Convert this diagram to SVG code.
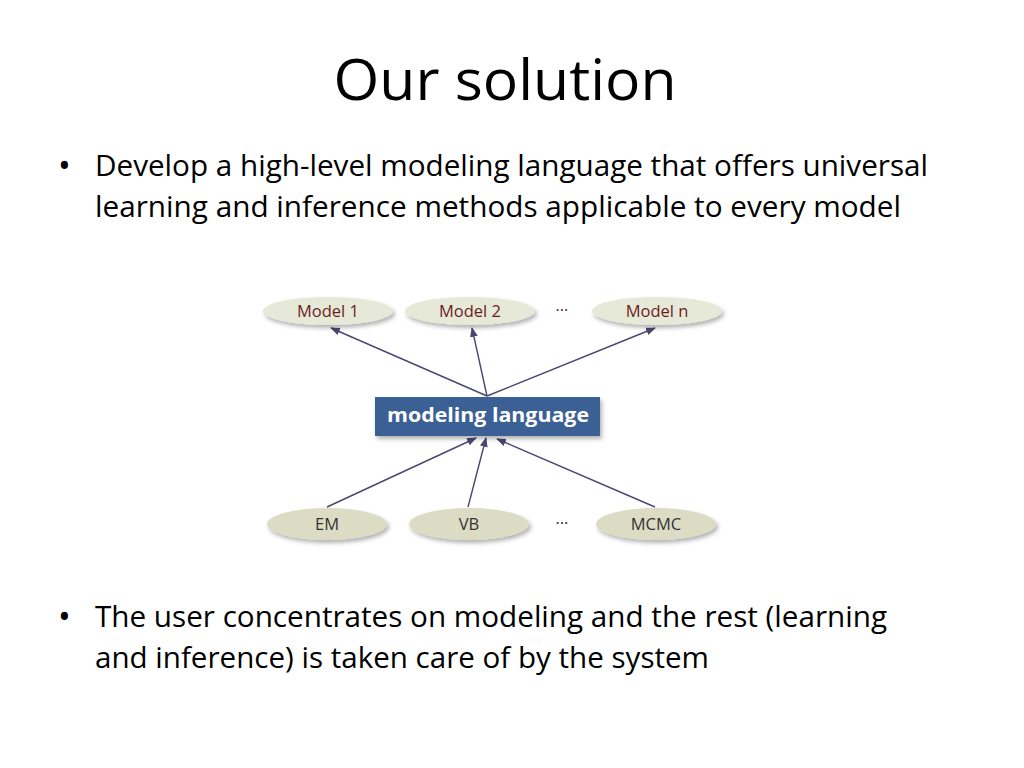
<svg xmlns="http://www.w3.org/2000/svg" width="1024" height="768" viewBox="0 0 1024 768">
<defs>
<style>
text{font-family:"Open Sans","Liberation Sans",sans-serif}
.b{font-size:29px;fill:#000}
.d{font-size:34px;fill:#000}
.top{fill:#e6e8d8}
.bot{fill:#dcdcc4}
.ml{font-size:16.5px;fill:#6b1e1e}
.al{font-size:16.5px;fill:#333}
.c{stroke:#4a4670;stroke-width:1.4;fill:none;marker-end:url(#a)}
</style>
<marker id="a" viewBox="0 0 10 10" refX="9" refY="5" markerWidth="7" markerHeight="7" orient="auto"><path d="M0,1 L10,5 L0,9 z" fill="#4a4670"/></marker>
<filter id="s" x="-20%" y="-30%" width="150%" height="180%"><feDropShadow dx="2" dy="3" stdDeviation="2" flood-color="#000" flood-opacity="0.3"/></filter>
</defs>
<rect width="1024" height="768" fill="#fff"/>
<text x="505" y="100" font-size="57" text-anchor="middle" textLength="343" lengthAdjust="spacingAndGlyphs">Our solution</text>
<text class="d" x="58" y="178">•</text>
<text class="b" x="95" y="176" textLength="833" lengthAdjust="spacingAndGlyphs">Develop a high-level modeling language that offers universal</text>
<text class="b" x="95" y="217" textLength="806" lengthAdjust="spacingAndGlyphs">learning and inference methods applicable to every model</text>
<text class="d" x="58" y="629">•</text>
<text class="b" x="95" y="627" textLength="792" lengthAdjust="spacingAndGlyphs">The user concentrates on modeling and the rest (learning</text>
<text class="b" x="95" y="668" textLength="614" lengthAdjust="spacingAndGlyphs">and inference) is taken care of by the system</text>
<g id="connectors">
<line class="c" x1="487" y1="396" x2="331" y2="328"/>
<line class="c" x1="487" y1="396" x2="472" y2="328"/>
<line class="c" x1="487" y1="396" x2="655" y2="328"/>
<line class="c" x1="327" y1="507" x2="476" y2="438"/>
<line class="c" x1="468" y1="507" x2="486" y2="438"/>
<line class="c" x1="655" y1="507" x2="497" y2="439"/>
</g>
<g id="model1"><ellipse class="top" cx="328" cy="311" rx="65" ry="14" filter="url(#s)"/><text class="ml" x="328" y="317" text-anchor="middle">Model 1</text></g>
<g id="model2"><ellipse class="top" cx="470" cy="311" rx="65" ry="14" filter="url(#s)"/><text class="ml" x="470" y="317" text-anchor="middle">Model 2</text></g>
<text class="ml" x="562" y="311" text-anchor="middle">…</text>
<g id="modeln"><ellipse class="top" cx="657" cy="311" rx="65" ry="14" filter="url(#s)"/><text class="ml" x="657" y="317" text-anchor="middle">Model n</text></g>
<g id="lang"><rect x="375" y="397" width="225" height="39" fill="#3b6195" filter="url(#s)"/><text x="488" y="422" font-size="20" font-weight="bold" fill="#fff" text-anchor="middle" textLength="202" lengthAdjust="spacingAndGlyphs">modeling language</text></g>
<g id="em"><ellipse class="bot" cx="327" cy="524" rx="60" ry="16" filter="url(#s)"/><text class="al" x="327" y="530" text-anchor="middle">EM</text></g>
<g id="vb"><ellipse class="bot" cx="469" cy="524" rx="60" ry="16" filter="url(#s)"/><text class="al" x="469" y="530" text-anchor="middle">VB</text></g>
<text class="al" x="562" y="524" text-anchor="middle">…</text>
<g id="mcmc"><ellipse class="bot" cx="656" cy="524" rx="60" ry="16" filter="url(#s)"/><text class="al" x="656" y="530" text-anchor="middle">MCMC</text></g>
</svg>
